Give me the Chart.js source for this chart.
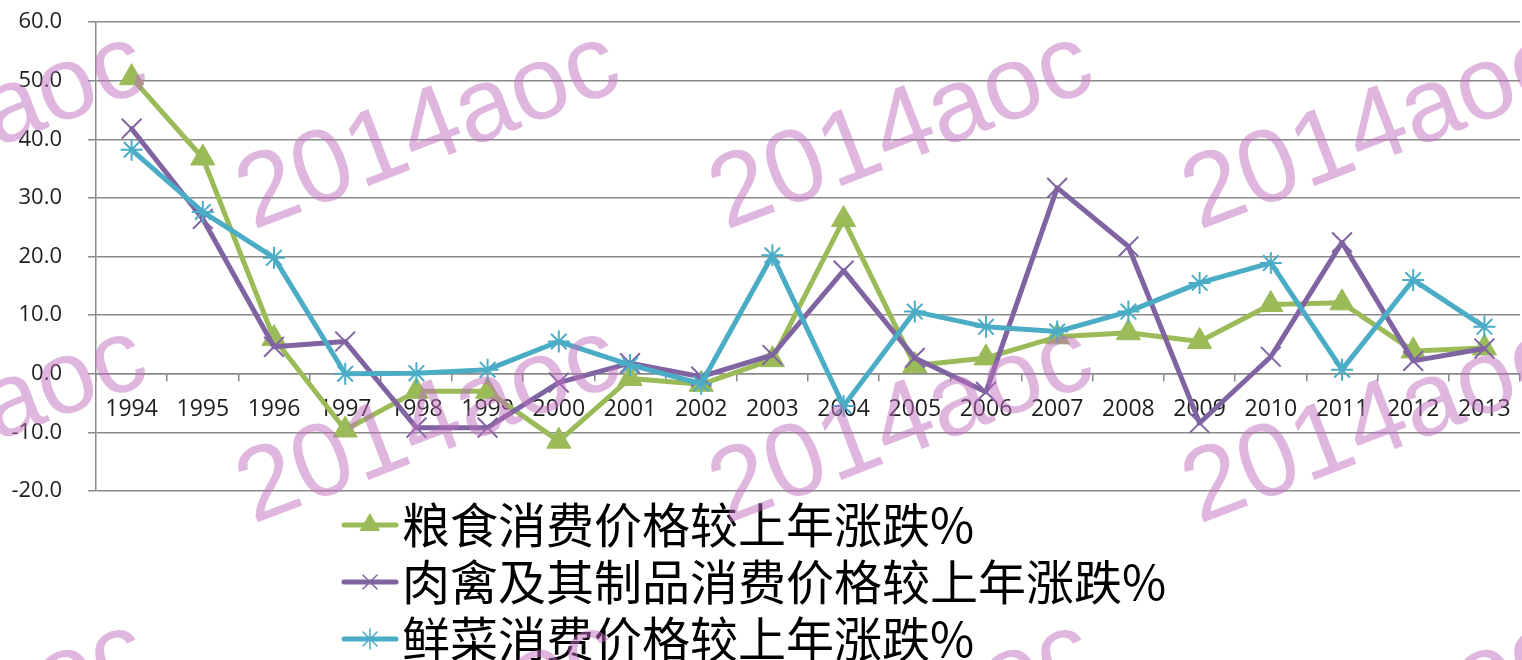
<!DOCTYPE html>
<html>
<head>
<meta charset="utf-8">
<script src="https://cdn.jsdelivr.net/npm/chart.js@4/dist/chart.umd.min.js"></script>
<style>
    html, body { margin: 0; padding: 0; background: #ffffff; overflow: hidden; }
    #wrap { width: 1522px; height: 660px; position: relative; }
    #wrap canvas { display: block; }
</style>
</head>
<body>
<div id="wrap"><canvas id="price-chart"></canvas></div>
<script>
const years = ['1994', '1995', '1996', '1997', '1998', '1999', '2000', '2001', '2002', '2003',
               '2004', '2005', '2006', '2007', '2008', '2009', '2010', '2011', '2012', '2013'];
const seriesNames = ['粮食消费价格较上年涨跌%', '肉禽及其制品消费价格较上年涨跌%', '鲜菜消费价格较上年涨跌%'];
const grainValues = [50.5, 36.8, 6.0, -9.6, -3.0, -3.0, -11.5, -0.8, -1.8, 2.4,
                     26.3, 1.4, 2.7, 6.3, 7.0, 5.5, 11.8, 12.1, 3.9, 4.4];
const meatValues = [41.8, 26.4, 4.6, 5.5, -9.2, -9.2, -1.5, 1.8, -0.5, 3.2,
                    17.6, 2.7, -3.1, 31.7, 21.7, -8.4, 2.9, 22.4, 2.2, 4.3];
const vegValues = [38.2, 27.6, 19.8, 0.0, 0.1, 0.7, 5.5, 1.5, -1.7, 20.2,
                   -5.5, 10.6, 8.0, 7.2, 10.6, 15.5, 18.9, 0.7, 16.0, 8.0];
const yMin = -20;
const yMax = 60;
const yStep = 10;
const watermarkText = '2014aoc';

const gridColor = '#8a8a8a';
const textColor = '#1e1e1e';

// legend drawn as a vertical list under the plot, like the original
const bottomLegend = {
    id: 'bottomLegend',
    afterDraw(chart) {
        const ctx = chart.ctx;
        ctx.save();
        chart.data.datasets.forEach((ds, i) => {
            const y = 525 + i * 57;
            ctx.strokeStyle = ds.borderColor;
            ctx.lineWidth = 5;
            ctx.lineCap = 'round';
            ctx.beginPath();
            ctx.moveTo(344, y);
            ctx.lineTo(396, y);
            ctx.stroke();
            ctx.fillStyle = ds.pointBackgroundColor;
            ctx.strokeStyle = ds.pointBorderColor;
            ctx.lineWidth = ds.pointStyle === 'triangle' ? 1 : 1.5;
            Chart.helpers.drawPoint(ctx, {
                pointStyle: ds.pointStyle,
                radius: ds.pointStyle === 'triangle' ? 11 : 10,
                rotation: 0,
                borderWidth: ctx.lineWidth
            }, 370, y);
            ctx.fillStyle = '#000';
            ctx.font = '48px "Noto Sans CJK SC"';
            ctx.textBaseline = 'middle';
            ctx.textAlign = 'left';
            ctx.fillText(ds.label, 402, y);
        });
        ctx.restore();
    }
};

// tiled diagonal watermark across the whole picture
const watermark = {
    id: 'watermark',
    afterDraw(chart) {
        const ctx = chart.ctx;
        ctx.save();
        ctx.font = '104px "Liberation Sans", Arial, sans-serif';
        ctx.fillStyle = 'rgba(190, 110, 190, 0.5)';
        ctx.textAlign = 'center';
        ctx.textBaseline = 'middle';
        [132, 426, 720].forEach(cy => {
            [-44, 429, 902, 1375].forEach(cx => {
                ctx.save();
                ctx.translate(cx, cy);
                ctx.rotate(-21 * Math.PI / 180);
                ctx.fillText(watermarkText, 0, 0);
                ctx.restore();
            });
        });
        ctx.restore();
    }
};

const ctx = document.getElementById('price-chart');

new Chart(ctx, {
    type: 'line',
    data: {
        labels: years,
        datasets: [
            {
                label: seriesNames[0],
                data: grainValues,
                borderColor: '#9bbb59',
                backgroundColor: '#9bbb59',
                pointBackgroundColor: '#9bbb59',
                pointBorderColor: '#9bbb59',
                pointStyle: 'triangle',
                pointRadius: 14,
                pointBorderWidth: 1,
                borderWidth: 5,
                order: 2
            },
            {
                label: seriesNames[1],
                data: meatValues,
                borderColor: '#8064a2',
                backgroundColor: '#8064a2',
                pointBackgroundColor: '#8064a2',
                pointBorderColor: '#8064a2',
                pointStyle: 'crossRot',
                pointRadius: 14,
                pointBorderWidth: 2,
                borderWidth: 5,
                order: 1
            },
            {
                label: seriesNames[2],
                data: vegValues,
                borderColor: '#4bacc6',
                backgroundColor: '#4bacc6',
                pointBackgroundColor: '#4bacc6',
                pointBorderColor: '#4bacc6',
                pointStyle: 'star',
                pointRadius: 11,
                pointBorderWidth: 2,
                borderWidth: 5,
                order: 0
            }
        ]
    },
    options: {
        responsive: true,
        maintainAspectRatio: false,
        animation: false,
        layout: {
            autoPadding: false,
            padding: { top: 22, bottom: 169, left: 0, right: 2 }
        },
        elements: {
            line: { tension: 0, borderJoinStyle: 'round', borderCapStyle: 'round' }
        },
        scales: {
            x: {
                type: 'category',
                position: { y: 0 },
                offset: true,
                afterFit(scale) {
                    // no extra room for the end labels, the plot runs edge to edge
                    scale.paddingLeft = 0;
                    scale.paddingRight = 0;
                },
                grid: {
                    offset: true,
                    drawOnChartArea: false,
                    drawTicks: true,
                    tickLength: 7,
                    color: gridColor,
                    lineWidth: 1.5
                },
                border: { display: true, color: gridColor, width: 1.5 },
                ticks: {
                    color: textColor,
                    padding: 15,
                    maxRotation: 0,
                    autoSkip: false,
                    font: { family: '"Open Sans"', size: 23 }
                }
            },
            y: {
                min: yMin,
                max: yMax,
                afterFit(scale) {
                    scale.width = 96;
                    scale.paddingTop = 0;
                    scale.paddingBottom = 0;
                },
                grid: {
                    color: gridColor,
                    lineWidth: 1.5,
                    tickLength: 8
                },
                border: { display: true, color: gridColor, width: 1.5 },
                ticks: {
                    stepSize: yStep,
                    color: textColor,
                    padding: 26,
                    font: { family: '"Open Sans"', size: 22 },
                    callback: v => v.toFixed(1)
                }
            }
        },
        plugins: {
            legend: { display: false },
            tooltip: { enabled: false }
        }
    },
    plugins: [bottomLegend, watermark]
});
</script>
</body>
</html>
